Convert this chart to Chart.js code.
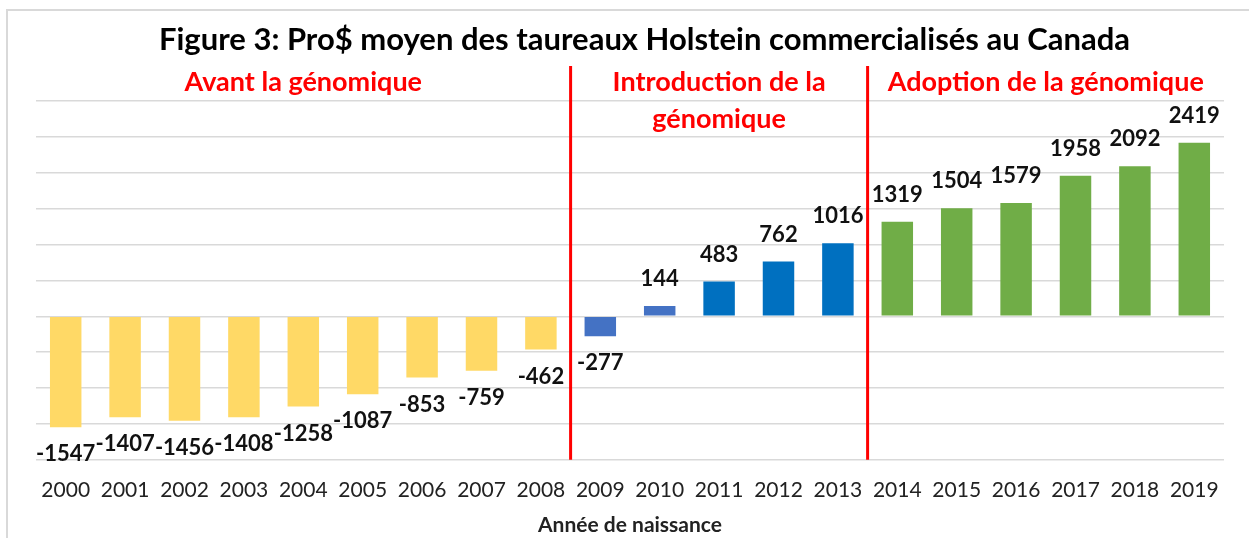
<!DOCTYPE html>
<html>
<head>
<meta charset="utf-8">
<script src="https://cdn.jsdelivr.net/npm/chart.js@4/dist/chart.umd.min.js"></script>
<style>
  html, body { margin: 0; padding: 0; background: #fff; }
  #frame { position: absolute; left: 6px; top: 9px; width: 1270px; height: 560px; border: 2px solid #d9d9d9; box-sizing: border-box; }
  #wrap { position: absolute; left: 0; top: 0; width: 1249px; height: 538px; }
</style>
</head>
<body>
<div id="frame"></div>
<div id="wrap"><canvas id="proChart"></canvas></div>
<script>
// Années de naissance et Pro$ moyen
const years = ['2000', '2001', '2002', '2003', '2004', '2005', '2006', '2007', '2008', '2009',
               '2010', '2011', '2012', '2013', '2014', '2015', '2016', '2017', '2018', '2019'];
const proDollar = [-1547, -1407, -1456, -1408, -1258, -1087, -853, -759, -462, -277,
                   144, 483, 762, 1016, 1319, 1504, 1579, 1958, 2092, 2419];

const chartTitle = 'Figure 3: Pro$ moyen des taureaux Holstein commercialisés au Canada';

// périodes : première année de chaque nouvelle période
const periodStarts = ['2009', '2014'];
const periodTitles = [['Avant la génomique'], ['Introduction de la', 'génomique'], ['Adoption de la génomique']];

const yMin = -2000;
const yMax = 3000;
const yStep = 500;

const FONT = 'Lato, "Open Sans", sans-serif';

function barColor(year) {
    const y = +year;
    if (y < 2009) return '#FFD966';
    if (y < 2011) return '#4472C4';
    if (y < 2014) return '#0070C0';
    return '#70AD47';
}

// étiquettes de valeurs au bout des barres
const valueLabels = {
    id: 'valueLabels',
    afterDatasetsDraw(chart) {
        const ctx = chart.ctx;
        const meta = chart.getDatasetMeta(0);
        ctx.save();
        ctx.font = 'bold 22px ' + FONT;
        ctx.fillStyle = '#111';
        ctx.textAlign = 'center';
        ctx.textBaseline = 'middle';
        meta.data.forEach((bar, i) => {
            const v = proDollar[i];
            const y = v >= 0 ? bar.y - 27 : bar.y + 27;
            ctx.fillText(String(v), bar.x, y);
        });
        ctx.restore();
    }
};

// titre, lignes rouges + titres des périodes
const periods = {
    id: 'periods',
    afterDraw(chart) {
        const ctx = chart.ctx;
        const xs = chart.scales.x;
        const area = chart.chartArea;

        ctx.save();
        ctx.fillStyle = '#000';
        ctx.font = 'bold 31px ' + FONT;
        ctx.textAlign = 'center';
        ctx.textBaseline = 'middle';
        ctx.fillText(chartTitle, chart.width / 2 + 20, 40);

        const edges = [area.left];
        periodStarts.forEach(yr => {
            const i = years.indexOf(yr);
            edges.push((xs.getPixelForValue(i - 1) + xs.getPixelForValue(i)) / 2);
        });
        edges.push(area.right);

        ctx.strokeStyle = '#FF0000';
        ctx.lineWidth = 3;
        for (let k = 1; k < edges.length - 1; k++) {
            ctx.beginPath();
            ctx.moveTo(edges[k], area.top - 35);
            ctx.lineTo(edges[k], area.bottom);
            ctx.stroke();
        }
        ctx.fillStyle = '#FF0000';
        ctx.font = 'bold 27px ' + FONT;
        periodTitles.forEach((lines, k) => {
            const cx = (edges[k] + edges[k + 1]) / 2;
            lines.forEach((t, j) => ctx.fillText(t, cx, area.top - 19 + j * 37));
        });
        ctx.restore();
    }
};

new Chart(document.getElementById('proChart'), {
    type: 'bar',
    data: {
        labels: years,
        datasets: [{
            data: proDollar,
            backgroundColor: years.map(barColor),
            categoryPercentage: 1,
            barPercentage: 0.53
        }]
    },
    options: {
        responsive: true,
        maintainAspectRatio: false,
        animation: false,
        layout: { padding: { left: 36, right: 25, top: 101, bottom: 0 } },
        plugins: {
            legend: { display: false },
            tooltip: { enabled: false },
            title: { display: false }
        },
        scales: {
            x: {
                grid: { display: false },
                border: { display: false },
                ticks: { color: '#222', font: { family: FONT, size: 21, lineHeight: 1 }, padding: 12, maxRotation: 0 },
                title: {
                    display: true,
                    text: 'Année de naissance',
                    color: '#222',
                    font: { family: FONT, size: 21, weight: 'bold' },
                    padding: { top: 0, bottom: 0 }
                }
            },
            y: {
                min: yMin,
                max: yMax,
                ticks: { display: false, stepSize: yStep },
                border: { display: false },
                grid: { color: '#d9d9d9', lineWidth: 1.5, drawTicks: false }
            }
        }
    },
    plugins: [valueLabels, periods]
});
</script>
</body>
</html>
